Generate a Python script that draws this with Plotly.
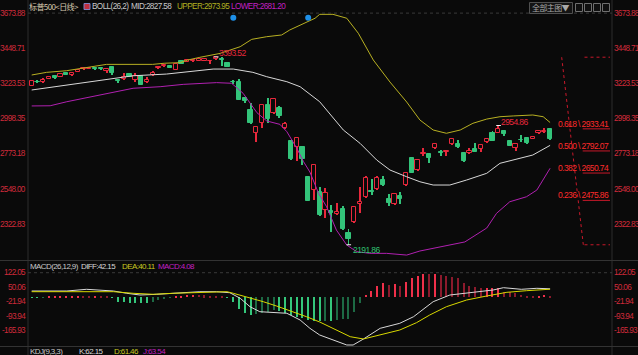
import plotly.graph_objects as go

W, H = 638, 355
BG = "#0a0a0a"
NUM = "Liberation Sans, Arial, sans-serif"
CJK = "Noto Sans CJK SC, sans-serif"
RED = "#e8283c"
GREEN = "#33c47a"
AXRED = "#d02a3a"
LS = "letter-spacing:-0.6px"

# ---------------- data ----------------
opens = [3209, 3236, 3231, 3254, 3273, 3267, 3289, 3276, 3297, 3316,
         3318, 3320, 3324, 3306, 3331, 3243, 3250, 3286, 3246, 3273,
         3231, 3276, 3322, 3334, 3335, 3312, 3367, 3363, 3365, 3370,
         3370, 3365, 3380, 3380, 3355, 3235, 3231, 3132, 3054, 2909,
         2969, 3086, 3036, 3065, 2937, 2855, 2819, 2815, 2623, 2540,
         2530, 2414, 2408, 2386, 2420, 2265, 2335, 2451, 2496, 2534,
         2549, 2606, 2484, 2452, 2503, 2574, 2745, 2670, 2775, 2772,
         2808, 2785, 2785, 2835, 2836, 2781, 2777, 2803, 2803, 2847,
         2905, 2909, 2919, 2858, 2808, 2864, 2877, 2870, 2905, 2913,
         2932]
closes = [3239, 3233, 3246, 3267, 3257, 3284, 3278, 3289, 3310, 3324,
          3325, 3314, 3316, 3316, 3293, 3239, 3267, 3267, 3273, 3214,
          3246, 3293, 3327, 3342, 3325, 3346, 3350, 3374, 3372, 3378,
          3381, 3369, 3391, 3377, 3331, 3232, 3118, 3110, 2969, 2947,
          3086, 2994, 3122, 3017, 2962, 2738, 2873, 2738, 2474, 2700,
          2380, 2521, 2393, 2404, 2292, 2231, 2435, 2464, 2617, 2529,
          2617, 2574, 2461, 2514, 2482, 2653, 2653, 2736, 2782, 2750,
          2834, 2781, 2789, 2866, 2815, 2727, 2791, 2787, 2830, 2866,
          2857, 2930, 2900, 2824, 2834, 2860, 2841, 2879, 2922, 2917,
          2866]
highs = [3242, 3244, 3257, 3270, 3276, 3287, 3297, 3292, 3313, 3327,
         3328, 3323, 3330, 3320, 3334, 3254, 3293, 3290, 3293, 3276,
         3267, 3306, 3338, 3345, 3338, 3349, 3370, 3377, 3375, 3381,
         3384, 3372, 3393.52, 3392, 3358, 3245, 3255, 3135, 3100, 2950,
         3089, 3129, 3125, 3080, 2979, 2858, 2876, 2818, 2630, 2705,
         2560, 2555, 2446, 2461, 2440, 2291, 2438, 2560, 2632, 2611,
         2632, 2634, 2517, 2517, 2529, 2656, 2748, 2740, 2813, 2775,
         2837, 2798, 2800, 2869, 2862, 2784, 2813, 2841, 2833, 2869,
         2920, 2954.86, 2922, 2861, 2837, 2894, 2880, 2882, 2925, 2937,
         2935]
lows = [3206, 3226, 3228, 3250, 3254, 3264, 3275, 3273, 3294, 3313,
        3315, 3311, 3313, 3290, 3276, 3229, 3247, 3264, 3231, 3211,
        3228, 3273, 3314, 3331, 3322, 3309, 3347, 3360, 3362, 3367,
        3367, 3350, 3377, 3337, 3328, 3219, 3115, 3100, 2966, 2851,
        2942, 2973, 3030, 3001, 2935, 2735, 2729, 2702, 2470, 2480,
        2376, 2363, 2276, 2380, 2289, 2191.86, 2330, 2395, 2490, 2510,
        2545, 2570, 2440, 2449, 2452, 2570, 2650, 2665, 2760, 2717,
        2805, 2760, 2760, 2832, 2812, 2724, 2774, 2784, 2783, 2844,
        2854, 2906, 2888, 2821, 2794, 2851, 2838, 2867, 2902, 2905,
        2863]
idx = list(range(len(opens)))

upper_i = [0, 2.6, 6, 9.5, 11.9, 13, 21, 23, 25.8, 27, 29.2, 32.7, 36.2, 38.2, 40.8, 43.4, 44.8, 46.6,
           49.2, 50, 52.3, 54.7, 56.7, 59.3, 62.2, 65.1, 67.4, 69.7, 72, 74.4, 76.6, 79, 81.3, 83.6,
           87, 88.8, 90]
upper_v = [3278, 3295, 3305, 3324, 3337, 3346, 3346, 3353, 3357, 3373, 3391, 3416, 3459, 3506, 3523,
           3534, 3566, 3598, 3641, 3666, 3666, 3641, 3545, 3374, 3233, 3105, 2990, 2926, 2905, 2926,
           2969, 2996, 3011, 3016, 3022, 3011, 2973.95]
mid_i = [0, 6.1, 11.9, 14.5, 17.6, 23.4, 26.9, 31.5, 35, 38.4, 40.8, 44.3, 46.6, 48.8, 50, 54.1, 57,
         59.9, 62.2, 65.1, 67.4, 69.7, 72.6, 75.5, 79, 81.3, 83.6, 87, 90]
mid_v = [3182, 3214, 3246, 3261, 3273, 3284, 3299, 3316, 3316, 3295, 3267, 3235, 3203, 3139, 3107,
         2926, 2841, 2734, 2670, 2627, 2595, 2574, 2574, 2606, 2649, 2713, 2734, 2766, 2827.58]
lower_i = [0, 3.2, 6.1, 11.9, 17.6, 22.3, 26.3, 32.1, 34.7, 36.7, 37.9, 39.1, 40.8, 43.1, 44.3, 46,
           47.2, 48.3, 49.8, 51.2, 52.9, 54.7, 56.4, 58.7, 61.6, 65.1, 67.4, 70.9, 75.2, 79, 80.7, 83,
           85.9, 87.7, 88.8, 90]
lower_v = [3080, 3081, 3107, 3150, 3193, 3203, 3218, 3229, 3225, 3161, 3097, 3037, 2984, 2962, 2915,
           2811, 2723, 2657, 2521, 2435, 2286, 2190, 2148, 2137, 2137, 2126, 2152, 2178, 2210, 2299,
           2393, 2467, 2499, 2542, 2606, 2681.2]

signal_i = [35, 48]
signal_v = [3644, 3644]

diff_i = [0, 6.1, 9.5, 14.2, 16.5, 18.8, 21.7, 25.2, 29.2, 32.1, 34.4, 36.2, 37.9, 39.6, 41.9, 44.3,
          46.6, 48.3, 50, 52.4, 54.7, 55.8, 57.6, 60.5, 63.9, 66.3, 69.7, 72.6, 76.1, 80.1, 81.9, 85,
          87.7, 90]
diff_v = [31.3, 31.3, 39.7, 31.3, 19.9, 11.4, 14.9, 19.9, 27.8, 27.8, 22.8, -5.0, -46.7, -71.5, -74.5,
          -79.4, -112.7, -153.9, -187.2, -212, -236.8, -236.8, -207, -153.9, -129.1, -96.3, -21.8, 11.4,
          22.8, 36.2, 47.7, 39.7, 44.7, 42.15]
dea_i = [0, 14.2, 17.6, 21.1, 24.6, 29.2, 33.9, 35, 37.3, 40.2, 42.5, 45.4, 47.7, 50, 52.4, 55.3, 57.6,
         60.5, 63.9, 66.8, 69.1, 72, 75.5, 79, 82.5, 85.9, 90]
dea_v = [27.8, 27.8, 19.9, 14.9, 19.9, 24.8, 27.8, 19.9, 3.0, -21.8, -43.2, -71.5, -96.3, -122.6, -153.9,
         -195.6, -207, -187.2, -162.4, -126.1, -87.9, -46.7, -13.4, 6.5, 24.8, 32.8, 40.11]
macd_hist = [-3, -3, -2, 3, 4, 4, 5, 5, 6, 4, 3, 4, 3, 2, -2,
             -22, -25, -27, -30, -30, -30, -22, -13, -10, -3,
             5, 8, 10, 11, 10, 9, 8, 6, 4,
             -3, -22, -60, -79, -88, -83, -79, -71, -63, -68, -76, -88, -99, -104, -113, -118, -120,
             -118, -118, -113, -109, -108, -71, -30,
             11, 31, 56, 70, 61, 66, 56, 78, 94, 106, 116, 114, 116, 111, 106, 102, 94, 70, 56, 50,
             45, 45, 45, 45, 28, 25, 20, 11, 6.5, 5, 8, 11, 4.08]

price_ticks = [3673.88, 3448.71, 3223.53, 2998.35, 2773.18, 2548.00, 2322.83]
macd_ticks = [122.05, 50.06, -21.94, -93.94, -165.93]
fib_ratios = ["0.618", "0.500", "0.382", "0.236"]
fib_values = [2933.41, 2792.07, 2650.74, 2475.86]
fib_top, fib_bottom = 3391.76, 2191.86
hi_label = [(32, 3393.52), (81, 2954.86)]
lo_label = [(55, 2191.86)]

# ---------------- geometry helpers ----------------
def px(x):
    return x / W

def py(y):
    return 1 - y / H

PX_X0, PX_X1 = 28, 612
CX0, CSTEP = 31.7, 5.76
x_range = [(PX_X0 - CX0) / CSTEP, (PX_X1 - CX0) / CSTEP]

P_REF, P_REF_Y, P_PER_PX = 3448.71, 48.3, 225.18 / 35.2
def price_at(y):
    return P_REF - (y - P_REF_Y) * P_PER_PX
MAIN_TOP, MAIN_BOT = 3, 260
M_ZERO_Y, M_PER_PX = 297.3, 1 / 0.2014
def macd_at(y):
    return (M_ZERO_Y - y) * M_PER_PX
MACD_TOP, MACD_BOT = 262, 346

def cond(s, ls=LS):
    return f'<span style="{ls}">{s}</span>'

fig = go.Figure()

# Bollinger bands
fig.add_trace(go.Scatter(x=upper_i, y=upper_v, mode="lines", line=dict(color="#b8b022", width=1),
                         xaxis="x", yaxis="y"))
fig.add_trace(go.Scatter(x=mid_i, y=mid_v, mode="lines", line=dict(color="#d8d8d8", width=1),
                         xaxis="x", yaxis="y"))
fig.add_trace(go.Scatter(x=lower_i, y=lower_v, mode="lines", line=dict(color="#b020b0", width=1),
                         xaxis="x", yaxis="y"))

# candles: wicks then bodies (up = hollow red, down = filled green)
up = [c >= o for o, c in zip(opens, closes)]
ccol = [RED if u else GREEN for u in up]
fig.add_trace(go.Bar(x=idx, base=lows, y=[h - l for h, l in zip(highs, lows)], width=0.17,
                     marker=dict(color=ccol, line=dict(width=0)), xaxis="x", yaxis="y"))
body_base = [min(o, c) for o, c in zip(opens, closes)]
body_h = [max(abs(c - o), 3) for o, c in zip(opens, closes)]
fig.add_trace(go.Bar(x=idx, base=body_base, y=body_h, width=0.74,
                     marker=dict(color=[BG if u else GREEN for u in up],
                                 line=dict(color=ccol, width=1)),
                     xaxis="x", yaxis="y"))

fig.add_trace(go.Scatter(x=signal_i, y=signal_v, mode="markers",
                         marker=dict(color="#1e90e8", size=6), xaxis="x", yaxis="y"))

# MACD histogram colours
hist_colors = []
for k, v in enumerate(macd_hist):
    prev = macd_hist[k - 1] if k > 0 else 0
    if v >= 0:
        hist_colors.append("#f0304a" if v >= prev else "#8c1a2c")
    else:
        hist_colors.append("#34c77b" if v <= prev else "#1d6a44")
fig.add_trace(go.Bar(x=idx, y=macd_hist, marker=dict(color=hist_colors, line=dict(width=0)),
                     width=0.2, xaxis="x2", yaxis="y2"))
fig.add_trace(go.Scatter(x=diff_i, y=diff_v, mode="lines", line=dict(color="#d8d8d8", width=1),
                         xaxis="x2", yaxis="y2"))
fig.add_trace(go.Scatter(x=dea_i, y=dea_v, mode="lines", line=dict(color="#d8d800", width=1),
                         xaxis="x2", yaxis="y2"))

shapes = []
ann = []

# frame lines
for xx in (PX_X0, PX_X1):
    shapes.append(dict(type="line", xref="paper", yref="paper", x0=px(xx), x1=px(xx),
                       y0=py(0), y1=py(H), line=dict(color="#2c2c2c", width=1)))
for yy in (MAIN_BOT + 0.5, MACD_BOT + 0.5):
    shapes.append(dict(type="line", xref="paper", yref="paper", x0=0, x1=1,
                       y0=py(yy), y1=py(yy), line=dict(color="#333333", width=1)))
shapes.append(dict(type="line", xref="paper", yref="y", x0=px(PX_X0), x1=px(PX_X1),
                   y0=price_ticks[0], y1=price_ticks[0], line=dict(color="#3a3a3a", width=1, dash="dot")))
shapes.append(dict(type="line", xref="paper", yref="y2", x0=px(PX_X0), x1=px(PX_X1),
                   y0=macd_ticks[0], y1=macd_ticks[0], line=dict(color="#3a3a3a", width=1, dash="dot")))

# axis labels both sides
TLS = "letter-spacing:-0.7px"
def side_labels(vals, yref):
    for v in vals:
        t = cond(f"{v:.2f}", TLS)
        ann.append(dict(xref="paper", yref=yref, x=px(PX_X0 - 1), y=v, text=t, showarrow=False,
                        xanchor="right", yanchor="middle", borderpad=0,
                        font=dict(family=NUM, size=8.2, color=AXRED)))
        ann.append(dict(xref="paper", yref=yref, x=px(PX_X1 + 0.5), y=v, text=t, showarrow=False,
                        xanchor="left", yanchor="middle", borderpad=0,
                        font=dict(family=NUM, size=8.2, color=AXRED)))
side_labels(price_ticks, "y")
side_labels(macd_ticks, "y2")

# Fibonacci retracement
FIB_C = "#c8182a"
fx0 = (561.7 - CX0) / CSTEP
fx1 = (583.3 - CX0) / CSTEP
fxa = (584.5 - CX0) / CSTEP
fxb = (610 - CX0) / CSTEP
shapes.append(dict(type="line", xref="x", yref="y", x0=fx0, x1=fx1, y0=fib_top, y1=fib_bottom,
                   line=dict(color=FIB_C, width=1, dash="dot")))
for v in (fib_top, fib_bottom):
    shapes.append(dict(type="line", xref="x", yref="y", x0=fxa, x1=fxb, y0=v, y1=v,
                       line=dict(color=FIB_C, width=1, dash="dot")))
for r, v in zip(fib_ratios, fib_values):
    shapes.append(dict(type="line", xref="x", yref="y", x0=(582.7 - CX0) / CSTEP, x1=fxb, y0=v, y1=v,
                       line=dict(color=FIB_C, width=1)))
    ann.append(dict(xref="x", yref="y", x=fxb, y=v, text=cond(f"{r} \\ {v:.2f}"), showarrow=False,
                    xanchor="right", yanchor="bottom", yshift=-1, borderpad=0,
                    font=dict(family=NUM, size=8.5, color="#ff2a2a")))

# high / low marks
for i, v in hi_label:
    shapes.append(dict(type="line", xref="x", yref="y", x0=i - 0.35, x1=i + 0.45, y0=v, y1=v,
                       line=dict(color="#f0f0f0", width=1)))
    ann.append(dict(xref="x", yref="y", x=i, y=v, text=cond(f"{v:.2f}"), showarrow=False, xanchor="left",
                    yanchor="middle", xshift=2, yshift=4, borderpad=0,
                    font=dict(family=NUM, size=8.5, color="#e8283c")))
for i, v in lo_label:
    shapes.append(dict(type="line", xref="x", yref="y", x0=i - 0.35, x1=i + 0.45, y0=v, y1=v,
                       line=dict(color="#f0f0f0", width=1)))
    ann.append(dict(xref="x", yref="y", x=i, y=v, text=cond(f"{v:.2f}"), showarrow=False, xanchor="left",
                    yanchor="middle", xshift=3, yshift=-5, borderpad=0,
                    font=dict(family=NUM, size=8.5, color="#30c070")))

# header rows
def txt(x, y, s, color, size=8.2, fam=NUM):
    ann.append(dict(xref="paper", yref="paper", x=px(x), y=py(y), text=cond(s), showarrow=False,
                    xanchor="left", yanchor="middle", borderpad=0,
                    font=dict(family=fam, size=size, color=color)))

txt(28, 6.5, "标普500&lt;日线&gt;", "#d8cbb0", 8, CJK)
shapes.append(dict(type="rect", xref="paper", yref="paper", x0=px(84), x1=px(90), y0=py(3.5), y1=py(9.5),
                   line=dict(color="#8080c0", width=1), fillcolor="#c03040"))
txt(91, 6.5, "BOLL(26,2)", "#c8c8c8")
txt(129.5, 6.5, "MID:2827.58", "#c8c8c8")
txt(176, 6.5, "UPPER:2973.95", "#b0b020")
txt(230, 6.5, "LOWER:2681.20", "#c020c0")

txt(29, 266, "MACD(26,12,9)", "#c8c8c8", 8)
txt(80, 266, "DIFF:42.15", "#d8d8d8", 8)
txt(121, 266, "DEA:40.11", "#c8c820", 8)
txt(157, 266, "MACD:4.08", "#c020c0", 8)

txt(29, 351, "KDJ(9,3,3)", "#c8c8c8", 8)
txt(78, 351, "K:62.15", "#d8d8d8", 8)
txt(113, 351, "D:61.46", "#c8c820", 8)
txt(142, 351, "J:63.54", "#c020c0", 8)

# top-right controls
shapes.append(dict(type="rect", xref="paper", yref="paper", x0=px(529.5), x1=px(572.5), y0=py(2.5),
                   y1=py(13.5), line=dict(color="#505050", width=1), fillcolor="#141414"))
txt(531, 8, "全部主图▼", "#a8a8a8", 8, CJK)
for xx in (575.5, 584.5, 593.5, 602.5):
    shapes.append(dict(type="rect", xref="paper", yref="paper", x0=px(xx), x1=px(xx + 7), y0=py(3.5),
                       y1=py(11.5), line=dict(color="#707070", width=1), fillcolor="#101010"))

fig.update_layout(
    width=W, height=H, margin=dict(l=0, r=0, t=0, b=0),
    paper_bgcolor=BG, plot_bgcolor=BG, showlegend=False, hovermode=False,
    shapes=shapes, annotations=ann, barmode="overlay", bargap=0,
    xaxis=dict(domain=[px(PX_X0), px(PX_X1)], range=x_range, visible=False, anchor="y"),
    xaxis2=dict(domain=[px(PX_X0), px(PX_X1)], range=x_range, visible=False, anchor="y2", matches="x"),
    yaxis=dict(domain=[py(MAIN_BOT), py(MAIN_TOP)], range=[price_at(MAIN_BOT), price_at(MAIN_TOP)],
               visible=False, anchor="x"),
    yaxis2=dict(domain=[py(MACD_BOT), py(MACD_TOP)], range=[macd_at(MACD_BOT), macd_at(MACD_TOP)],
                visible=False, anchor="x2"),
)

fig.write_html("out.html")
